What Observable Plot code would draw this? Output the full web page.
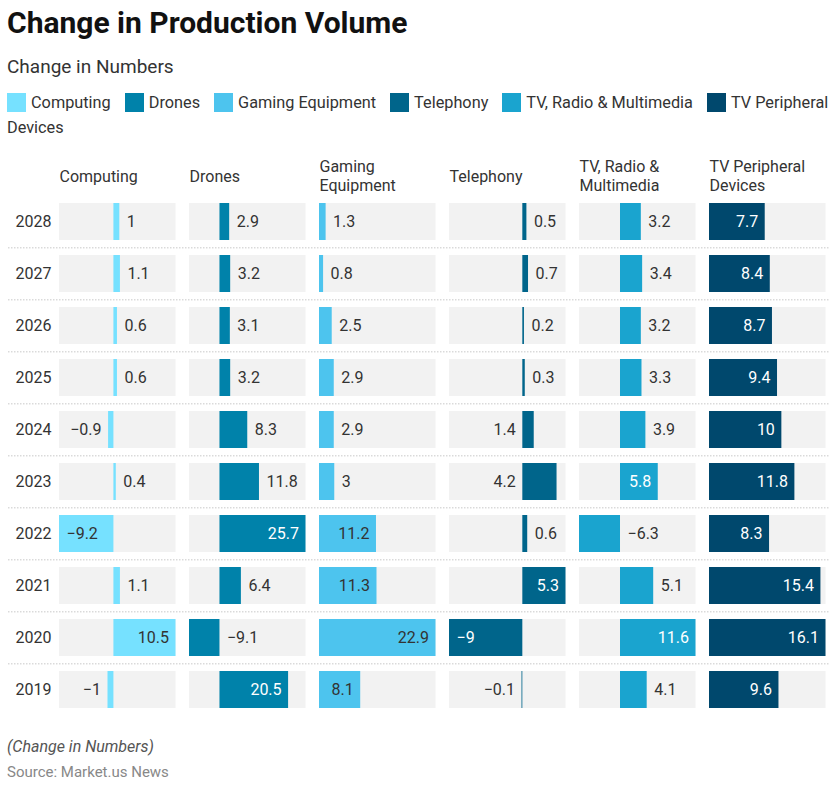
<!DOCTYPE html>
<html><head><meta charset="utf-8">
<script src="https://cdn.jsdelivr.net/npm/d3@7"></script>
<script src="https://cdn.jsdelivr.net/npm/@observablehq/plot@0.6"></script>
<style>
body{margin:0;background:#fff;font-family:Roboto, sans-serif;}
#page{position:relative;width:840px;height:789px;overflow:hidden;background:#fff;}
#title{position:absolute;left:7px;top:5px;font-size:30px;font-weight:700;color:#111;line-height:36px;white-space:nowrap;}
#subtitle{position:absolute;left:7px;top:55px;font-size:19px;color:#333;line-height:24px;}
#legend{position:absolute;left:7px;top:90px;width:833px;font-size:16.3px;line-height:25px;color:#333;}
#legend .item{margin-right:14px;}
#legend .sw{display:inline-block;width:19px;height:19px;vertical-align:-4px;margin-right:5px;}
#chart{position:absolute;left:0;top:145px;width:840px;height:582px;}
#chart > div, #chart > svg{position:absolute;top:0;}
#note{position:absolute;left:7px;top:736px;font-size:16px;font-style:italic;color:#555;line-height:22px;}
#source{position:absolute;left:7px;top:762px;font-size:15px;color:#888;line-height:20px;}
</style>
</head><body>
<div id="page">
  <div id="title">Change in Production Volume</div>
  <div id="subtitle">Change in Numbers</div>
  <div id="legend"></div>
  <div id="chart"></div>
  <div id="note">(Change in Numbers)</div>
  <div id="source">Source: Market.us News</div>
</div>
<script>
const years = [2028, 2027, 2026, 2025, 2024, 2023, 2022, 2021, 2020, 2019];
const categories = ["Computing", "Drones", "Gaming Equipment", "Telephony", "TV, Radio & Multimedia", "TV Peripheral Devices"];
const headerLabels = ["Computing", "Drones", "Gaming\nEquipment", "Telephony", "TV, Radio &\nMultimedia", "TV Peripheral\nDevices"];
const colors = ["#76e1ff", "#0082aa", "#4dc4ee", "#00658b", "#1aa4cf", "#00486d"];

const computing    = [1, 1.1, 0.6, 0.6, -0.9, 0.4, -9.2, 1.1, 10.5, -1];
const drones       = [2.9, 3.2, 3.1, 3.2, 8.3, 11.8, 25.7, 6.4, -9.1, 20.5];
const gaming       = [1.3, 0.8, 2.5, 2.9, 2.9, 3, 11.2, 11.3, 22.9, 8.1];
const telephony    = [0.5, 0.7, 0.2, 0.3, 1.4, 4.2, 0.6, 5.3, -9, -0.1];
const tvRadio      = [3.2, 3.4, 3.2, 3.3, 3.9, 5.8, -6.3, 5.1, 11.6, 4.1];
const tvPeripheral = [7.7, 8.4, 8.7, 9.4, 10, 11.8, 8.3, 15.4, 16.1, 9.6];
const series = [computing, drones, gaming, telephony, tvRadio, tvPeripheral];

// legend (each word its own span so wrapped items keep tight boxes)
const esc = s => s.replace(/&/g, "&amp;");
const legend = document.getElementById("legend");
legend.innerHTML = categories.map((c, i) =>
  `<span class="item"><span class="sw" style="background:${colors[i]}"></span>` +
  c.split(" ").map(w => `<span>${esc(w)}</span>`).join(" ") + `</span>`).join("");

// layout
const chartH = 582;
const yRange = [40.67, 579.3];
const yPad = 0.293;
const step = (yRange[1] - yRange[0]) / (years.length + yPad);
const panelLeft0 = 59, panelStep = 130, panelW = 116.5;
const pad = 7;
const fmt = v => (v < 0 ? "\u2212" : "") + Math.abs(v);

const ctx = document.createElement("canvas").getContext("2d");
ctx.font = "16px Roboto";

const chart = document.getElementById("chart");
const yScale = {type: "band", domain: years, range: yRange, padding: yPad, axis: null};

// background: year labels and separators
const bg = Plot.plot({
  width: 840, height: chartH,
  marginLeft: 8, marginRight: 10, marginTop: 0, marginBottom: 0,
  style: {fontFamily: "Roboto", fontSize: "16px", background: "transparent", overflow: "visible"},
  y: yScale,
  marks: [
    Plot.ruleY(years.slice(1), {y: d => d, dy: -step / 2, stroke: "#c8c8c8", strokeDasharray: "1.5,1.5"}),
    Plot.text(years, {y: d => d, text: d => String(d), frameAnchor: "left", textAnchor: "start", dx: 7, fill: "#333", fontSize: 16})
  ]
});
bg.style.left = "0px";
chart.appendChild(bg);

series.forEach((vals, i) => {
  const lo = Math.min(0, d3.min(vals)), hi = Math.max(0, d3.max(vals));
  const k = panelW / (hi - lo);
  const rows = years.map((year, j) => {
    const v = vals[j];
    const label = fmt(v);
    const tw = ctx.measureText(label).width;
    const barPx = Math.abs(v) * k;
    let lx, side, inside = false;
    if (barPx >= tw + 2 * pad) {
      inside = true; lx = v; side = v >= 0 ? "end" : "start";
    } else {
      const room = v >= 0 ? (hi - v) * k : (v - lo) * k;
      if (room >= tw + 2 * pad) { lx = v; side = v >= 0 ? "start" : "end"; }
      else { lx = 0; side = v >= 0 ? "end" : "start"; }
    }
    const tc = inside ? (d3.lab(colors[i]).l > 68 ? "#333" : "#ffffff") : "#333";
    return {year, v, label, lx, side, tc};
  });
  const p = Plot.plot({
    width: Math.ceil(panelW), height: chartH,
    marginLeft: 0, marginRight: 0, marginTop: 0, marginBottom: 0,
    style: {fontFamily: "Roboto", fontSize: "16px", background: "transparent", overflow: "visible"},
    x: {domain: [lo, hi], range: [0, panelW], axis: null},
    y: yScale,
    color: {type: "identity"},
    marks: [
      Plot.barX(rows, {y: "year", x1: lo, x2: hi, fill: "#f2f2f2"}),
      Plot.barX(rows, {y: "year", x1: 0, x2: "v", fill: colors[i]}),
      Plot.text(rows.filter(d => d.side === "start"), {y: "year", x: "lx", text: "label", fill: "tc", textAnchor: "start", dx: pad, fontSize: 16}),
      Plot.text(rows.filter(d => d.side === "end"), {y: "year", x: "lx", text: "label", fill: "tc", textAnchor: "end", dx: -pad, fontSize: 16}),
      Plot.text([headerLabels[i]], {frameAnchor: "top-left", text: d => d, textAnchor: "start", lineAnchor: "middle", lineHeight: 1.2, dy: 30, fill: "#333", fontSize: 16})
    ]
  });
  p.style.left = (panelLeft0 + i * panelStep) + "px";
  chart.appendChild(p);
});
</script>
</body></html>
